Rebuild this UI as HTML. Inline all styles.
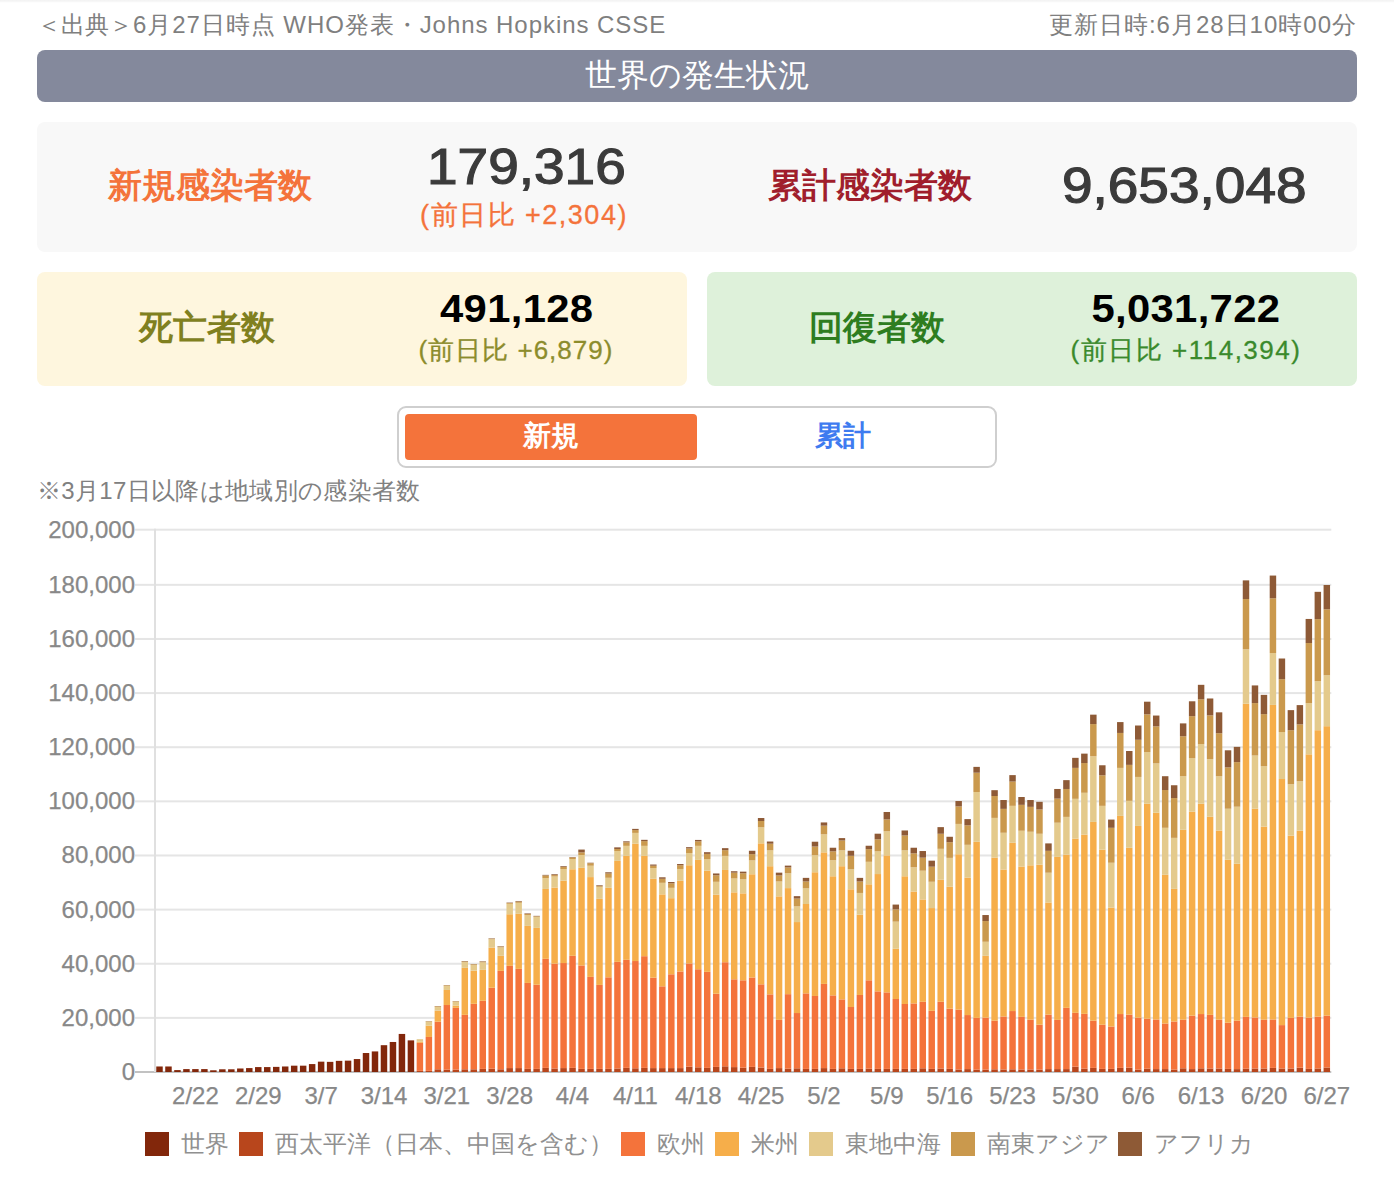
<!DOCTYPE html>
<html lang="ja"><head><meta charset="utf-8"><title>世界の発生状況</title>
<style>
html,body{margin:0;padding:0;background:#fff;}
body{width:1394px;height:1188px;position:relative;overflow:hidden;font-family:"Liberation Sans",sans-serif;color:#808080;}
.abs{position:absolute;}
.topline{position:absolute;left:0;top:0;width:1394px;height:3px;background:linear-gradient(#f3f3f3 0,#f5f5f5 40%,#fcfcfc 75%,#fff 100%);}
.src{position:absolute;left:37px;top:11px;font-size:24px;line-height:28px;color:#7f7f7f;white-space:nowrap;}
.upd{position:absolute;right:37px;top:11px;font-size:24px;line-height:28px;color:#7f7f7f;white-space:nowrap;}
.hdr{position:absolute;left:37px;top:50px;width:1320px;height:52px;border-radius:8px;background:#84899c;color:#fff;font-size:32px;line-height:50px;text-align:center;}
.box{position:absolute;border-radius:8px;}
.b1{left:37px;top:122px;width:1320px;height:130px;background:#f8f8f8;}
.b2{left:37px;top:272px;width:650px;height:114px;background:#fef6de;}
.b3{left:707px;top:272px;width:650px;height:114px;background:#def1da;}
.lab{position:absolute;font-weight:bold;font-size:34px;line-height:40px;white-space:nowrap;text-align:center;}
.num{position:absolute;font-weight:bold;white-space:nowrap;text-align:center;}
.num span{display:inline-block;transform-origin:50% 50%;}
.big span{font-weight:normal;-webkit-text-stroke:1.2px #3b3b3b;transform:scaleX(1.10);}
.med span{transform:scaleX(1.1);letter-spacing:0.3px;}
.sub{position:absolute;white-space:nowrap;text-align:center;letter-spacing:1.5px;-webkit-text-stroke:0.3px currentColor;}
.tog{position:absolute;left:397px;top:406px;width:596px;height:58px;border:2px solid #cfcfcf;border-radius:9px;background:#fff;}
.ton{position:absolute;left:405px;top:414px;width:292px;height:46px;border-radius:4px;background:#f4733b;color:#fff;font-weight:bold;font-size:28px;line-height:44px;text-align:center;}
.toff{position:absolute;left:697px;top:414px;width:292px;height:46px;color:#3e7bf0;font-weight:bold;font-size:28px;line-height:44px;text-align:center;}
.note{position:absolute;left:37px;top:477px;font-size:24px;line-height:28px;color:#808080;white-space:nowrap;letter-spacing:0.32px;}
.yl{position:absolute;left:0;width:135px;text-align:right;font-size:24px;line-height:28px;color:#888;white-space:nowrap;-webkit-text-stroke:0.25px #888;}
.xl{position:absolute;top:1082px;width:80px;text-align:center;font-size:24px;line-height:28px;color:#888;white-space:nowrap;-webkit-text-stroke:0.25px #888;}
.legend{position:absolute;left:145px;top:1128px;height:32px;white-space:nowrap;font-size:24px;line-height:32px;color:#909090;}
.lb{position:absolute;top:4px;width:24px;height:24px;}
.lt{position:absolute;top:0;}
svg{position:absolute;left:0;top:0;}
</style></head><body>
<div class="topline"></div>
<div class="src">＜出典＞<span style="letter-spacing:0.95px">6月27日時点 WHO発表・Johns Hopkins CSSE</span></div>
<div class="upd" style="letter-spacing:1px">更新日時:6月28日10時00分</div>
<div class="hdr">世界の発生状況</div>

<div class="box b1"></div>
<div class="lab" style="left:60px;width:300px;top:165px;color:#f4733b">新規感染者数</div>
<div class="num big" style="left:376px;width:300px;top:138px;font-size:50px;line-height:58px;color:#3b3b3b"><span>179,316</span></div>
<div class="sub" style="left:374px;width:300px;top:198px;font-size:27px;line-height:34px;color:#f4733b">(前日比 +2,304)</div>
<div class="lab" style="left:720px;width:300px;top:165px;color:#a01e2c">累計感染者数</div>
<div class="num big" style="left:1034px;width:300px;top:157px;font-size:50px;line-height:58px;color:#3b3b3b"><span>9,653,048</span></div>

<div class="box b2"></div>
<div class="lab" style="left:57px;width:300px;top:307px;color:#80801f">死亡者数</div>
<div class="num med" style="left:367px;width:300px;top:285px;font-size:38px;line-height:48px;color:#000"><span>491,128</span></div>
<div class="sub" style="left:366px;width:300px;top:333px;font-size:26px;line-height:34px;letter-spacing:1px;color:#8c8c2c">(前日比 +6,879)</div>

<div class="box b3"></div>
<div class="lab" style="left:727px;width:300px;top:307px;color:#2e7d1f">回復者数</div>
<div class="num med" style="left:1036px;width:300px;top:285px;font-size:38px;line-height:48px;color:#000"><span>5,031,722</span></div>
<div class="sub" style="left:1036px;width:300px;top:333px;font-size:26px;line-height:34px;color:#3a8a2c">(前日比 +114,394)</div>

<div class="tog"></div>
<div class="ton">新規</div>
<div class="toff">累計</div>
<div class="note">※3月17日以降は地域別の感染者数</div>

<svg width="1394" height="1188" viewBox="0 0 1394 1188" shape-rendering="auto">
<rect x="135" y="1071.00" width="1196.30" height="2" fill="#c2c2c2"/>
<rect x="135" y="1016.87" width="1196.30" height="2" fill="#e5e5e5"/>
<rect x="135" y="962.74" width="1196.30" height="2" fill="#e5e5e5"/>
<rect x="135" y="908.61" width="1196.30" height="2" fill="#e5e5e5"/>
<rect x="135" y="854.48" width="1196.30" height="2" fill="#e5e5e5"/>
<rect x="135" y="800.35" width="1196.30" height="2" fill="#e5e5e5"/>
<rect x="135" y="746.22" width="1196.30" height="2" fill="#e5e5e5"/>
<rect x="135" y="692.09" width="1196.30" height="2" fill="#e5e5e5"/>
<rect x="135" y="637.96" width="1196.30" height="2" fill="#e5e5e5"/>
<rect x="135" y="583.83" width="1196.30" height="2" fill="#e5e5e5"/>
<rect x="135" y="528.70" width="1196.30" height="2" fill="#e5e5e5"/>
<rect x="154" y="528.70" width="2" height="543.30" fill="#e0e0e0"/>
<rect x="156.26" y="1066.48" width="6.47" height="5.52" fill="#82270b"/>
<rect x="165.24" y="1066.48" width="6.47" height="5.52" fill="#82270b"/>
<rect x="174.22" y="1070.09" width="6.47" height="1.91" fill="#82270b"/>
<rect x="183.20" y="1069.09" width="6.47" height="2.91" fill="#82270b"/>
<rect x="192.17" y="1069.09" width="6.47" height="2.91" fill="#82270b"/>
<rect x="201.15" y="1069.09" width="6.47" height="2.91" fill="#82270b"/>
<rect x="210.13" y="1070.29" width="6.47" height="1.71" fill="#82270b"/>
<rect x="219.11" y="1069.29" width="6.47" height="2.71" fill="#82270b"/>
<rect x="228.09" y="1069.29" width="6.47" height="2.71" fill="#82270b"/>
<rect x="237.07" y="1068.49" width="6.47" height="3.51" fill="#82270b"/>
<rect x="246.05" y="1068.09" width="6.47" height="3.91" fill="#82270b"/>
<rect x="255.03" y="1067.08" width="6.47" height="4.92" fill="#82270b"/>
<rect x="264.01" y="1067.08" width="6.47" height="4.92" fill="#82270b"/>
<rect x="272.99" y="1066.88" width="6.47" height="5.12" fill="#82270b"/>
<rect x="281.97" y="1066.48" width="6.47" height="5.52" fill="#82270b"/>
<rect x="290.95" y="1065.68" width="6.47" height="6.32" fill="#82270b"/>
<rect x="299.93" y="1065.68" width="6.47" height="6.32" fill="#82270b"/>
<rect x="308.91" y="1064.07" width="6.47" height="7.93" fill="#82270b"/>
<rect x="317.89" y="1061.66" width="6.47" height="10.34" fill="#82270b"/>
<rect x="326.87" y="1061.86" width="6.47" height="10.14" fill="#82270b"/>
<rect x="335.84" y="1060.86" width="6.47" height="11.14" fill="#82270b"/>
<rect x="344.82" y="1060.65" width="6.47" height="11.35" fill="#82270b"/>
<rect x="353.80" y="1059.05" width="6.47" height="12.95" fill="#82270b"/>
<rect x="362.78" y="1053.02" width="6.47" height="18.98" fill="#82270b"/>
<rect x="371.76" y="1051.42" width="6.47" height="20.58" fill="#82270b"/>
<rect x="380.74" y="1045.19" width="6.47" height="26.81" fill="#82270b"/>
<rect x="389.72" y="1041.98" width="6.47" height="30.02" fill="#82270b"/>
<rect x="398.70" y="1033.94" width="6.47" height="38.06" fill="#82270b"/>
<rect x="407.68" y="1040.37" width="6.47" height="31.63" fill="#82270b"/>
<rect x="416.66" y="1070.90" width="6.47" height="1.10" fill="#b8461c"/>
<rect x="416.66" y="1042.78" width="6.47" height="28.12" fill="#f4733b"/>
<rect x="416.66" y="1041.78" width="6.47" height="1.00" fill="#f6ae4a"/>
<rect x="416.66" y="1039.16" width="6.47" height="2.61" fill="#e4ca8c"/>
<rect x="425.64" y="1070.90" width="6.47" height="1.10" fill="#b8461c"/>
<rect x="425.64" y="1036.95" width="6.47" height="33.94" fill="#f4733b"/>
<rect x="425.64" y="1025.71" width="6.47" height="11.25" fill="#f6ae4a"/>
<rect x="425.64" y="1021.69" width="6.47" height="4.02" fill="#e4ca8c"/>
<rect x="425.64" y="1021.29" width="6.47" height="0.40" fill="#ca994d"/>
<rect x="425.64" y="1021.09" width="6.47" height="0.20" fill="#8e5a36"/>
<rect x="434.62" y="1069.29" width="6.47" height="2.71" fill="#b8461c"/>
<rect x="434.62" y="1021.69" width="6.47" height="47.60" fill="#f4733b"/>
<rect x="434.62" y="1010.64" width="6.47" height="11.05" fill="#f6ae4a"/>
<rect x="434.62" y="1006.83" width="6.47" height="3.82" fill="#e4ca8c"/>
<rect x="434.62" y="1006.23" width="6.47" height="0.60" fill="#ca994d"/>
<rect x="434.62" y="1006.03" width="6.47" height="0.20" fill="#8e5a36"/>
<rect x="443.60" y="1069.69" width="6.47" height="2.31" fill="#b8461c"/>
<rect x="443.60" y="1005.02" width="6.47" height="64.67" fill="#f4733b"/>
<rect x="443.60" y="989.96" width="6.47" height="15.06" fill="#f6ae4a"/>
<rect x="443.60" y="985.94" width="6.47" height="4.02" fill="#e4ca8c"/>
<rect x="443.60" y="985.34" width="6.47" height="0.60" fill="#ca994d"/>
<rect x="443.60" y="985.14" width="6.47" height="0.20" fill="#8e5a36"/>
<rect x="452.58" y="1069.69" width="6.47" height="2.31" fill="#b8461c"/>
<rect x="452.58" y="1007.83" width="6.47" height="61.86" fill="#f4733b"/>
<rect x="452.58" y="1005.62" width="6.47" height="2.21" fill="#f6ae4a"/>
<rect x="452.58" y="1001.61" width="6.47" height="4.02" fill="#e4ca8c"/>
<rect x="452.58" y="1001.20" width="6.47" height="0.40" fill="#ca994d"/>
<rect x="452.58" y="1001.00" width="6.47" height="0.20" fill="#8e5a36"/>
<rect x="461.56" y="1069.29" width="6.47" height="2.71" fill="#b8461c"/>
<rect x="461.56" y="1014.86" width="6.47" height="54.43" fill="#f4733b"/>
<rect x="461.56" y="967.86" width="6.47" height="47.00" fill="#f6ae4a"/>
<rect x="461.56" y="962.04" width="6.47" height="5.82" fill="#e4ca8c"/>
<rect x="461.56" y="961.44" width="6.47" height="0.60" fill="#ca994d"/>
<rect x="461.56" y="961.04" width="6.47" height="0.40" fill="#8e5a36"/>
<rect x="470.54" y="1069.29" width="6.47" height="2.71" fill="#b8461c"/>
<rect x="470.54" y="1003.82" width="6.47" height="65.47" fill="#f4733b"/>
<rect x="470.54" y="970.68" width="6.47" height="33.14" fill="#f6ae4a"/>
<rect x="470.54" y="964.85" width="6.47" height="5.82" fill="#e4ca8c"/>
<rect x="470.54" y="964.25" width="6.47" height="0.60" fill="#ca994d"/>
<rect x="470.54" y="964.05" width="6.47" height="0.20" fill="#8e5a36"/>
<rect x="479.52" y="1068.89" width="6.47" height="3.11" fill="#b8461c"/>
<rect x="479.52" y="1000.80" width="6.47" height="68.09" fill="#f4733b"/>
<rect x="479.52" y="969.87" width="6.47" height="30.93" fill="#f6ae4a"/>
<rect x="479.52" y="962.44" width="6.47" height="7.43" fill="#e4ca8c"/>
<rect x="479.52" y="961.64" width="6.47" height="0.80" fill="#ca994d"/>
<rect x="479.52" y="961.24" width="6.47" height="0.40" fill="#8e5a36"/>
<rect x="488.49" y="1068.69" width="6.47" height="3.31" fill="#b8461c"/>
<rect x="488.49" y="987.75" width="6.47" height="80.94" fill="#f4733b"/>
<rect x="488.49" y="947.58" width="6.47" height="40.17" fill="#f6ae4a"/>
<rect x="488.49" y="939.34" width="6.47" height="8.23" fill="#e4ca8c"/>
<rect x="488.49" y="938.74" width="6.47" height="0.60" fill="#ca994d"/>
<rect x="488.49" y="938.34" width="6.47" height="0.40" fill="#8e5a36"/>
<rect x="497.47" y="1069.29" width="6.47" height="2.71" fill="#b8461c"/>
<rect x="497.47" y="970.88" width="6.47" height="98.41" fill="#f4733b"/>
<rect x="497.47" y="955.81" width="6.47" height="15.06" fill="#f6ae4a"/>
<rect x="497.47" y="947.38" width="6.47" height="8.44" fill="#e4ca8c"/>
<rect x="497.47" y="946.58" width="6.47" height="0.80" fill="#ca994d"/>
<rect x="497.47" y="946.17" width="6.47" height="0.40" fill="#8e5a36"/>
<rect x="506.45" y="1068.09" width="6.47" height="3.91" fill="#b8461c"/>
<rect x="506.45" y="965.86" width="6.47" height="102.23" fill="#f4733b"/>
<rect x="506.45" y="914.24" width="6.47" height="51.62" fill="#f6ae4a"/>
<rect x="506.45" y="903.80" width="6.47" height="10.44" fill="#e4ca8c"/>
<rect x="506.45" y="902.99" width="6.47" height="0.80" fill="#ca994d"/>
<rect x="506.45" y="902.59" width="6.47" height="0.40" fill="#8e5a36"/>
<rect x="515.43" y="1068.09" width="6.47" height="3.91" fill="#b8461c"/>
<rect x="515.43" y="968.87" width="6.47" height="99.22" fill="#f4733b"/>
<rect x="515.43" y="913.84" width="6.47" height="55.03" fill="#f6ae4a"/>
<rect x="515.43" y="902.79" width="6.47" height="11.05" fill="#e4ca8c"/>
<rect x="515.43" y="901.59" width="6.47" height="1.21" fill="#ca994d"/>
<rect x="515.43" y="900.98" width="6.47" height="0.60" fill="#8e5a36"/>
<rect x="524.41" y="1068.89" width="6.47" height="3.11" fill="#b8461c"/>
<rect x="524.41" y="982.93" width="6.47" height="85.96" fill="#f4733b"/>
<rect x="524.41" y="925.89" width="6.47" height="57.04" fill="#f6ae4a"/>
<rect x="524.41" y="915.04" width="6.47" height="10.85" fill="#e4ca8c"/>
<rect x="524.41" y="914.04" width="6.47" height="1.00" fill="#ca994d"/>
<rect x="524.41" y="913.44" width="6.47" height="0.60" fill="#8e5a36"/>
<rect x="533.39" y="1068.89" width="6.47" height="3.11" fill="#b8461c"/>
<rect x="533.39" y="984.74" width="6.47" height="84.15" fill="#f4733b"/>
<rect x="533.39" y="927.90" width="6.47" height="56.84" fill="#f6ae4a"/>
<rect x="533.39" y="916.85" width="6.47" height="11.05" fill="#e4ca8c"/>
<rect x="533.39" y="916.25" width="6.47" height="0.60" fill="#ca994d"/>
<rect x="533.39" y="915.85" width="6.47" height="0.40" fill="#8e5a36"/>
<rect x="542.37" y="1067.88" width="6.47" height="4.12" fill="#b8461c"/>
<rect x="542.37" y="958.83" width="6.47" height="109.06" fill="#f4733b"/>
<rect x="542.37" y="888.93" width="6.47" height="69.89" fill="#f6ae4a"/>
<rect x="542.37" y="878.09" width="6.47" height="10.85" fill="#e4ca8c"/>
<rect x="542.37" y="875.48" width="6.47" height="2.61" fill="#ca994d"/>
<rect x="542.37" y="874.87" width="6.47" height="0.60" fill="#8e5a36"/>
<rect x="551.35" y="1068.49" width="6.47" height="3.51" fill="#b8461c"/>
<rect x="551.35" y="963.65" width="6.47" height="104.84" fill="#f4733b"/>
<rect x="551.35" y="887.53" width="6.47" height="76.12" fill="#f6ae4a"/>
<rect x="551.35" y="876.48" width="6.47" height="11.05" fill="#e4ca8c"/>
<rect x="551.35" y="875.08" width="6.47" height="1.41" fill="#ca994d"/>
<rect x="551.35" y="874.27" width="6.47" height="0.80" fill="#8e5a36"/>
<rect x="560.33" y="1068.09" width="6.47" height="3.91" fill="#b8461c"/>
<rect x="560.33" y="963.04" width="6.47" height="105.04" fill="#f4733b"/>
<rect x="560.33" y="880.70" width="6.47" height="82.35" fill="#f6ae4a"/>
<rect x="560.33" y="869.05" width="6.47" height="11.65" fill="#e4ca8c"/>
<rect x="560.33" y="867.04" width="6.47" height="2.01" fill="#ca994d"/>
<rect x="560.33" y="866.24" width="6.47" height="0.80" fill="#8e5a36"/>
<rect x="569.31" y="1067.88" width="6.47" height="4.12" fill="#b8461c"/>
<rect x="569.31" y="955.81" width="6.47" height="112.07" fill="#f4733b"/>
<rect x="569.31" y="869.25" width="6.47" height="86.56" fill="#f6ae4a"/>
<rect x="569.31" y="859.01" width="6.47" height="10.24" fill="#e4ca8c"/>
<rect x="569.31" y="857.40" width="6.47" height="1.61" fill="#ca994d"/>
<rect x="569.31" y="857.00" width="6.47" height="0.40" fill="#8e5a36"/>
<rect x="578.29" y="1068.89" width="6.47" height="3.11" fill="#b8461c"/>
<rect x="578.29" y="965.45" width="6.47" height="103.43" fill="#f4733b"/>
<rect x="578.29" y="867.84" width="6.47" height="97.61" fill="#f6ae4a"/>
<rect x="578.29" y="854.99" width="6.47" height="12.85" fill="#e4ca8c"/>
<rect x="578.29" y="852.38" width="6.47" height="2.61" fill="#ca994d"/>
<rect x="578.29" y="849.57" width="6.47" height="2.81" fill="#8e5a36"/>
<rect x="587.27" y="1068.89" width="6.47" height="3.11" fill="#b8461c"/>
<rect x="587.27" y="976.90" width="6.47" height="91.99" fill="#f4733b"/>
<rect x="587.27" y="877.09" width="6.47" height="99.81" fill="#f6ae4a"/>
<rect x="587.27" y="865.74" width="6.47" height="11.35" fill="#e4ca8c"/>
<rect x="587.27" y="863.23" width="6.47" height="2.51" fill="#ca994d"/>
<rect x="587.27" y="862.73" width="6.47" height="0.50" fill="#8e5a36"/>
<rect x="596.25" y="1068.89" width="6.47" height="3.11" fill="#b8461c"/>
<rect x="596.25" y="984.94" width="6.47" height="83.95" fill="#f4733b"/>
<rect x="596.25" y="898.88" width="6.47" height="86.05" fill="#f6ae4a"/>
<rect x="596.25" y="886.83" width="6.47" height="12.05" fill="#e4ca8c"/>
<rect x="596.25" y="886.03" width="6.47" height="0.80" fill="#ca994d"/>
<rect x="596.25" y="885.32" width="6.47" height="0.70" fill="#8e5a36"/>
<rect x="605.23" y="1068.89" width="6.47" height="3.11" fill="#b8461c"/>
<rect x="605.23" y="977.30" width="6.47" height="91.58" fill="#f4733b"/>
<rect x="605.23" y="887.83" width="6.47" height="89.47" fill="#f6ae4a"/>
<rect x="605.23" y="877.79" width="6.47" height="10.04" fill="#e4ca8c"/>
<rect x="605.23" y="873.47" width="6.47" height="4.32" fill="#ca994d"/>
<rect x="605.23" y="872.27" width="6.47" height="1.21" fill="#8e5a36"/>
<rect x="614.21" y="1068.49" width="6.47" height="3.51" fill="#b8461c"/>
<rect x="614.21" y="961.84" width="6.47" height="106.65" fill="#f4733b"/>
<rect x="614.21" y="860.92" width="6.47" height="100.92" fill="#f6ae4a"/>
<rect x="614.21" y="850.98" width="6.47" height="9.94" fill="#e4ca8c"/>
<rect x="614.21" y="848.97" width="6.47" height="2.01" fill="#ca994d"/>
<rect x="614.21" y="847.36" width="6.47" height="1.61" fill="#8e5a36"/>
<rect x="623.19" y="1067.88" width="6.47" height="4.12" fill="#b8461c"/>
<rect x="623.19" y="959.83" width="6.47" height="108.05" fill="#f4733b"/>
<rect x="623.19" y="855.90" width="6.47" height="103.93" fill="#f6ae4a"/>
<rect x="623.19" y="845.85" width="6.47" height="10.04" fill="#e4ca8c"/>
<rect x="623.19" y="842.34" width="6.47" height="3.52" fill="#ca994d"/>
<rect x="623.19" y="841.33" width="6.47" height="1.00" fill="#8e5a36"/>
<rect x="632.16" y="1068.29" width="6.47" height="3.71" fill="#b8461c"/>
<rect x="632.16" y="961.04" width="6.47" height="107.25" fill="#f4733b"/>
<rect x="632.16" y="843.64" width="6.47" height="117.39" fill="#f6ae4a"/>
<rect x="632.16" y="832.90" width="6.47" height="10.75" fill="#e4ca8c"/>
<rect x="632.16" y="830.09" width="6.47" height="2.81" fill="#ca994d"/>
<rect x="632.16" y="828.88" width="6.47" height="1.21" fill="#8e5a36"/>
<rect x="641.14" y="1067.90" width="6.47" height="4.10" fill="#b8461c"/>
<rect x="641.14" y="956.20" width="6.47" height="111.70" fill="#f4733b"/>
<rect x="641.14" y="855.90" width="6.47" height="100.30" fill="#f6ae4a"/>
<rect x="641.14" y="845.85" width="6.47" height="10.04" fill="#e4ca8c"/>
<rect x="641.14" y="841.13" width="6.47" height="4.72" fill="#ca994d"/>
<rect x="641.14" y="839.83" width="6.47" height="1.31" fill="#8e5a36"/>
<rect x="650.12" y="1068.10" width="6.47" height="3.90" fill="#b8461c"/>
<rect x="650.12" y="977.69" width="6.47" height="90.41" fill="#f4733b"/>
<rect x="650.12" y="878.80" width="6.47" height="98.89" fill="#f6ae4a"/>
<rect x="650.12" y="868.05" width="6.47" height="10.75" fill="#e4ca8c"/>
<rect x="650.12" y="865.74" width="6.47" height="2.31" fill="#ca994d"/>
<rect x="650.12" y="864.53" width="6.47" height="1.21" fill="#8e5a36"/>
<rect x="659.10" y="1068.10" width="6.47" height="3.90" fill="#b8461c"/>
<rect x="659.10" y="986.33" width="6.47" height="81.77" fill="#f4733b"/>
<rect x="659.10" y="894.36" width="6.47" height="91.96" fill="#f6ae4a"/>
<rect x="659.10" y="882.81" width="6.47" height="11.55" fill="#e4ca8c"/>
<rect x="659.10" y="878.80" width="6.47" height="4.02" fill="#ca994d"/>
<rect x="659.10" y="877.29" width="6.47" height="1.51" fill="#8e5a36"/>
<rect x="668.08" y="1068.10" width="6.47" height="3.90" fill="#b8461c"/>
<rect x="668.08" y="974.28" width="6.47" height="93.82" fill="#f4733b"/>
<rect x="668.08" y="898.18" width="6.47" height="76.10" fill="#f6ae4a"/>
<rect x="668.08" y="887.83" width="6.47" height="10.34" fill="#e4ca8c"/>
<rect x="668.08" y="883.32" width="6.47" height="4.52" fill="#ca994d"/>
<rect x="668.08" y="882.01" width="6.47" height="1.31" fill="#8e5a36"/>
<rect x="677.06" y="1068.10" width="6.47" height="3.90" fill="#b8461c"/>
<rect x="677.06" y="971.46" width="6.47" height="96.64" fill="#f4733b"/>
<rect x="677.06" y="880.80" width="6.47" height="90.66" fill="#f6ae4a"/>
<rect x="677.06" y="868.95" width="6.47" height="11.85" fill="#e4ca8c"/>
<rect x="677.06" y="865.24" width="6.47" height="3.72" fill="#ca994d"/>
<rect x="677.06" y="864.03" width="6.47" height="1.21" fill="#8e5a36"/>
<rect x="686.04" y="1066.70" width="6.47" height="5.30" fill="#b8461c"/>
<rect x="686.04" y="963.43" width="6.47" height="103.27" fill="#f4733b"/>
<rect x="686.04" y="865.24" width="6.47" height="98.19" fill="#f6ae4a"/>
<rect x="686.04" y="852.98" width="6.47" height="12.25" fill="#e4ca8c"/>
<rect x="686.04" y="848.47" width="6.47" height="4.52" fill="#ca994d"/>
<rect x="686.04" y="847.16" width="6.47" height="1.31" fill="#8e5a36"/>
<rect x="695.02" y="1067.30" width="6.47" height="4.70" fill="#b8461c"/>
<rect x="695.02" y="969.25" width="6.47" height="98.05" fill="#f4733b"/>
<rect x="695.02" y="859.91" width="6.47" height="109.34" fill="#f6ae4a"/>
<rect x="695.02" y="845.85" width="6.47" height="14.06" fill="#e4ca8c"/>
<rect x="695.02" y="841.33" width="6.47" height="4.52" fill="#ca994d"/>
<rect x="695.02" y="839.93" width="6.47" height="1.41" fill="#8e5a36"/>
<rect x="704.00" y="1067.90" width="6.47" height="4.10" fill="#b8461c"/>
<rect x="704.00" y="971.87" width="6.47" height="96.03" fill="#f4733b"/>
<rect x="704.00" y="870.76" width="6.47" height="101.10" fill="#f6ae4a"/>
<rect x="704.00" y="859.01" width="6.47" height="11.75" fill="#e4ca8c"/>
<rect x="704.00" y="853.89" width="6.47" height="5.12" fill="#ca994d"/>
<rect x="704.00" y="852.18" width="6.47" height="1.71" fill="#8e5a36"/>
<rect x="712.98" y="1066.90" width="6.47" height="5.10" fill="#b8461c"/>
<rect x="712.98" y="993.76" width="6.47" height="73.14" fill="#f4733b"/>
<rect x="712.98" y="894.66" width="6.47" height="99.09" fill="#f6ae4a"/>
<rect x="712.98" y="881.81" width="6.47" height="12.86" fill="#e4ca8c"/>
<rect x="712.98" y="875.28" width="6.47" height="6.53" fill="#ca994d"/>
<rect x="712.98" y="873.47" width="6.47" height="1.81" fill="#8e5a36"/>
<rect x="721.96" y="1066.30" width="6.47" height="5.70" fill="#b8461c"/>
<rect x="721.96" y="962.23" width="6.47" height="104.07" fill="#f4733b"/>
<rect x="721.96" y="869.96" width="6.47" height="92.27" fill="#f6ae4a"/>
<rect x="721.96" y="855.90" width="6.47" height="14.06" fill="#e4ca8c"/>
<rect x="721.96" y="850.17" width="6.47" height="5.72" fill="#ca994d"/>
<rect x="721.96" y="848.16" width="6.47" height="2.01" fill="#8e5a36"/>
<rect x="730.94" y="1067.10" width="6.47" height="4.90" fill="#b8461c"/>
<rect x="730.94" y="979.30" width="6.47" height="87.80" fill="#f4733b"/>
<rect x="730.94" y="892.33" width="6.47" height="86.97" fill="#f6ae4a"/>
<rect x="730.94" y="878.47" width="6.47" height="13.86" fill="#e4ca8c"/>
<rect x="730.94" y="872.65" width="6.47" height="5.82" fill="#ca994d"/>
<rect x="730.94" y="871.24" width="6.47" height="1.41" fill="#8e5a36"/>
<rect x="739.92" y="1067.70" width="6.47" height="4.30" fill="#b8461c"/>
<rect x="739.92" y="980.30" width="6.47" height="87.40" fill="#f4733b"/>
<rect x="739.92" y="893.34" width="6.47" height="86.97" fill="#f6ae4a"/>
<rect x="739.92" y="879.28" width="6.47" height="14.06" fill="#e4ca8c"/>
<rect x="739.92" y="873.25" width="6.47" height="6.03" fill="#ca994d"/>
<rect x="739.92" y="871.65" width="6.47" height="1.61" fill="#8e5a36"/>
<rect x="748.90" y="1066.90" width="6.47" height="5.10" fill="#b8461c"/>
<rect x="748.90" y="977.49" width="6.47" height="89.41" fill="#f4733b"/>
<rect x="748.90" y="874.26" width="6.47" height="103.23" fill="#f6ae4a"/>
<rect x="748.90" y="860.40" width="6.47" height="13.86" fill="#e4ca8c"/>
<rect x="748.90" y="854.17" width="6.47" height="6.23" fill="#ca994d"/>
<rect x="748.90" y="850.76" width="6.47" height="3.41" fill="#8e5a36"/>
<rect x="757.88" y="1067.50" width="6.47" height="4.50" fill="#b8461c"/>
<rect x="757.88" y="984.32" width="6.47" height="83.18" fill="#f4733b"/>
<rect x="757.88" y="843.33" width="6.47" height="140.99" fill="#f6ae4a"/>
<rect x="757.88" y="827.26" width="6.47" height="16.07" fill="#e4ca8c"/>
<rect x="757.88" y="821.03" width="6.47" height="6.23" fill="#ca994d"/>
<rect x="757.88" y="818.02" width="6.47" height="3.01" fill="#8e5a36"/>
<rect x="766.86" y="1068.90" width="6.47" height="3.10" fill="#b8461c"/>
<rect x="766.86" y="994.36" width="6.47" height="74.54" fill="#f4733b"/>
<rect x="766.86" y="866.22" width="6.47" height="128.14" fill="#f6ae4a"/>
<rect x="766.86" y="850.36" width="6.47" height="15.87" fill="#e4ca8c"/>
<rect x="766.86" y="843.73" width="6.47" height="6.63" fill="#ca994d"/>
<rect x="766.86" y="841.52" width="6.47" height="2.21" fill="#8e5a36"/>
<rect x="775.83" y="1068.10" width="6.47" height="3.90" fill="#b8461c"/>
<rect x="775.83" y="1019.87" width="6.47" height="48.23" fill="#f4733b"/>
<rect x="775.83" y="896.35" width="6.47" height="123.52" fill="#f6ae4a"/>
<rect x="775.83" y="881.49" width="6.47" height="14.86" fill="#e4ca8c"/>
<rect x="775.83" y="875.46" width="6.47" height="6.03" fill="#ca994d"/>
<rect x="775.83" y="872.65" width="6.47" height="2.81" fill="#8e5a36"/>
<rect x="784.81" y="1068.70" width="6.47" height="3.30" fill="#b8461c"/>
<rect x="784.81" y="994.16" width="6.47" height="74.54" fill="#f4733b"/>
<rect x="784.81" y="888.11" width="6.47" height="106.05" fill="#f6ae4a"/>
<rect x="784.81" y="873.25" width="6.47" height="14.86" fill="#e4ca8c"/>
<rect x="784.81" y="867.43" width="6.47" height="5.82" fill="#ca994d"/>
<rect x="784.81" y="865.62" width="6.47" height="1.81" fill="#8e5a36"/>
<rect x="793.79" y="1068.30" width="6.47" height="3.70" fill="#b8461c"/>
<rect x="793.79" y="1013.04" width="6.47" height="55.26" fill="#f4733b"/>
<rect x="793.79" y="922.06" width="6.47" height="90.98" fill="#f6ae4a"/>
<rect x="793.79" y="906.39" width="6.47" height="15.67" fill="#e4ca8c"/>
<rect x="793.79" y="898.56" width="6.47" height="7.83" fill="#ca994d"/>
<rect x="793.79" y="896.15" width="6.47" height="2.41" fill="#8e5a36"/>
<rect x="802.77" y="1068.90" width="6.47" height="3.10" fill="#b8461c"/>
<rect x="802.77" y="993.36" width="6.47" height="75.54" fill="#f4733b"/>
<rect x="802.77" y="903.98" width="6.47" height="89.38" fill="#f6ae4a"/>
<rect x="802.77" y="888.32" width="6.47" height="15.67" fill="#e4ca8c"/>
<rect x="802.77" y="881.49" width="6.47" height="6.83" fill="#ca994d"/>
<rect x="802.77" y="877.87" width="6.47" height="3.62" fill="#8e5a36"/>
<rect x="811.75" y="1068.90" width="6.47" height="3.10" fill="#b8461c"/>
<rect x="811.75" y="995.97" width="6.47" height="72.93" fill="#f4733b"/>
<rect x="811.75" y="872.25" width="6.47" height="123.72" fill="#f6ae4a"/>
<rect x="811.75" y="855.18" width="6.47" height="17.07" fill="#e4ca8c"/>
<rect x="811.75" y="846.54" width="6.47" height="8.64" fill="#ca994d"/>
<rect x="811.75" y="841.72" width="6.47" height="4.82" fill="#8e5a36"/>
<rect x="820.73" y="1068.10" width="6.47" height="3.90" fill="#b8461c"/>
<rect x="820.73" y="983.92" width="6.47" height="84.18" fill="#f4733b"/>
<rect x="820.73" y="852.36" width="6.47" height="131.55" fill="#f6ae4a"/>
<rect x="820.73" y="834.29" width="6.47" height="18.08" fill="#e4ca8c"/>
<rect x="820.73" y="825.65" width="6.47" height="8.64" fill="#ca994d"/>
<rect x="820.73" y="822.44" width="6.47" height="3.21" fill="#8e5a36"/>
<rect x="829.71" y="1068.90" width="6.47" height="3.10" fill="#b8461c"/>
<rect x="829.71" y="995.36" width="6.47" height="73.54" fill="#f4733b"/>
<rect x="829.71" y="876.26" width="6.47" height="119.10" fill="#f6ae4a"/>
<rect x="829.71" y="860.20" width="6.47" height="16.07" fill="#e4ca8c"/>
<rect x="829.71" y="851.36" width="6.47" height="8.84" fill="#ca994d"/>
<rect x="829.71" y="847.74" width="6.47" height="3.62" fill="#8e5a36"/>
<rect x="838.69" y="1068.30" width="6.47" height="3.70" fill="#b8461c"/>
<rect x="838.69" y="999.38" width="6.47" height="68.92" fill="#f4733b"/>
<rect x="838.69" y="866.22" width="6.47" height="133.16" fill="#f6ae4a"/>
<rect x="838.69" y="850.36" width="6.47" height="15.87" fill="#e4ca8c"/>
<rect x="838.69" y="840.51" width="6.47" height="9.84" fill="#ca994d"/>
<rect x="838.69" y="838.10" width="6.47" height="2.41" fill="#8e5a36"/>
<rect x="847.67" y="1068.90" width="6.47" height="3.10" fill="#b8461c"/>
<rect x="847.67" y="1007.01" width="6.47" height="61.89" fill="#f4733b"/>
<rect x="847.67" y="889.32" width="6.47" height="117.69" fill="#f6ae4a"/>
<rect x="847.67" y="869.23" width="6.47" height="20.08" fill="#e4ca8c"/>
<rect x="847.67" y="855.78" width="6.47" height="13.46" fill="#ca994d"/>
<rect x="847.67" y="850.76" width="6.47" height="5.02" fill="#8e5a36"/>
<rect x="856.65" y="1068.90" width="6.47" height="3.10" fill="#b8461c"/>
<rect x="856.65" y="994.96" width="6.47" height="73.94" fill="#f4733b"/>
<rect x="856.65" y="914.63" width="6.47" height="80.34" fill="#f6ae4a"/>
<rect x="856.65" y="892.93" width="6.47" height="21.69" fill="#e4ca8c"/>
<rect x="856.65" y="881.49" width="6.47" height="11.45" fill="#ca994d"/>
<rect x="856.65" y="877.87" width="6.47" height="3.62" fill="#8e5a36"/>
<rect x="865.63" y="1068.70" width="6.47" height="3.30" fill="#b8461c"/>
<rect x="865.63" y="980.30" width="6.47" height="88.40" fill="#f4733b"/>
<rect x="865.63" y="884.30" width="6.47" height="96.00" fill="#f6ae4a"/>
<rect x="865.63" y="861.80" width="6.47" height="22.49" fill="#e4ca8c"/>
<rect x="865.63" y="849.15" width="6.47" height="12.65" fill="#ca994d"/>
<rect x="865.63" y="845.74" width="6.47" height="3.41" fill="#8e5a36"/>
<rect x="874.61" y="1068.90" width="6.47" height="3.10" fill="#b8461c"/>
<rect x="874.61" y="991.35" width="6.47" height="77.55" fill="#f4733b"/>
<rect x="874.61" y="874.06" width="6.47" height="117.29" fill="#f6ae4a"/>
<rect x="874.61" y="851.36" width="6.47" height="22.70" fill="#e4ca8c"/>
<rect x="874.61" y="839.31" width="6.47" height="12.05" fill="#ca994d"/>
<rect x="874.61" y="833.69" width="6.47" height="5.62" fill="#8e5a36"/>
<rect x="883.59" y="1068.90" width="6.47" height="3.10" fill="#b8461c"/>
<rect x="883.59" y="992.35" width="6.47" height="76.55" fill="#f4733b"/>
<rect x="883.59" y="855.38" width="6.47" height="136.98" fill="#f6ae4a"/>
<rect x="883.59" y="831.28" width="6.47" height="24.10" fill="#e4ca8c"/>
<rect x="883.59" y="819.43" width="6.47" height="11.85" fill="#ca994d"/>
<rect x="883.59" y="811.99" width="6.47" height="7.43" fill="#8e5a36"/>
<rect x="892.57" y="1068.90" width="6.47" height="3.10" fill="#b8461c"/>
<rect x="892.57" y="998.98" width="6.47" height="69.92" fill="#f4733b"/>
<rect x="892.57" y="948.77" width="6.47" height="50.21" fill="#f6ae4a"/>
<rect x="892.57" y="921.66" width="6.47" height="27.11" fill="#e4ca8c"/>
<rect x="892.57" y="909.40" width="6.47" height="12.25" fill="#ca994d"/>
<rect x="892.57" y="904.58" width="6.47" height="4.82" fill="#8e5a36"/>
<rect x="901.55" y="1068.90" width="6.47" height="3.10" fill="#b8461c"/>
<rect x="901.55" y="1004.00" width="6.47" height="64.90" fill="#f4733b"/>
<rect x="901.55" y="876.26" width="6.47" height="127.74" fill="#f6ae4a"/>
<rect x="901.55" y="850.36" width="6.47" height="25.91" fill="#e4ca8c"/>
<rect x="901.55" y="835.49" width="6.47" height="14.86" fill="#ca994d"/>
<rect x="901.55" y="830.47" width="6.47" height="5.02" fill="#8e5a36"/>
<rect x="910.53" y="1068.90" width="6.47" height="3.10" fill="#b8461c"/>
<rect x="910.53" y="1003.40" width="6.47" height="65.50" fill="#f4733b"/>
<rect x="910.53" y="891.53" width="6.47" height="111.87" fill="#f6ae4a"/>
<rect x="910.53" y="867.23" width="6.47" height="24.30" fill="#e4ca8c"/>
<rect x="910.53" y="853.37" width="6.47" height="13.86" fill="#ca994d"/>
<rect x="910.53" y="847.74" width="6.47" height="5.62" fill="#8e5a36"/>
<rect x="919.51" y="1068.29" width="6.47" height="3.71" fill="#b8461c"/>
<rect x="919.51" y="1001.81" width="6.47" height="66.48" fill="#f4733b"/>
<rect x="919.51" y="899.44" width="6.47" height="102.37" fill="#f6ae4a"/>
<rect x="919.51" y="870.72" width="6.47" height="28.72" fill="#e4ca8c"/>
<rect x="919.51" y="857.66" width="6.47" height="13.05" fill="#ca994d"/>
<rect x="919.51" y="851.03" width="6.47" height="6.63" fill="#8e5a36"/>
<rect x="928.48" y="1068.89" width="6.47" height="3.11" fill="#b8461c"/>
<rect x="928.48" y="1010.85" width="6.47" height="58.04" fill="#f4733b"/>
<rect x="928.48" y="908.07" width="6.47" height="102.77" fill="#f6ae4a"/>
<rect x="928.48" y="881.76" width="6.47" height="26.31" fill="#e4ca8c"/>
<rect x="928.48" y="866.70" width="6.47" height="15.06" fill="#ca994d"/>
<rect x="928.48" y="860.67" width="6.47" height="6.03" fill="#8e5a36"/>
<rect x="937.46" y="1068.49" width="6.47" height="3.51" fill="#b8461c"/>
<rect x="937.46" y="1001.81" width="6.47" height="66.68" fill="#f4733b"/>
<rect x="937.46" y="879.75" width="6.47" height="122.05" fill="#f6ae4a"/>
<rect x="937.46" y="848.83" width="6.47" height="30.93" fill="#e4ca8c"/>
<rect x="937.46" y="833.76" width="6.47" height="15.06" fill="#ca994d"/>
<rect x="937.46" y="827.13" width="6.47" height="6.63" fill="#8e5a36"/>
<rect x="946.44" y="1068.89" width="6.47" height="3.11" fill="#b8461c"/>
<rect x="946.44" y="1008.64" width="6.47" height="60.25" fill="#f4733b"/>
<rect x="946.44" y="886.78" width="6.47" height="121.85" fill="#f6ae4a"/>
<rect x="946.44" y="857.86" width="6.47" height="28.92" fill="#e4ca8c"/>
<rect x="946.44" y="842.20" width="6.47" height="15.67" fill="#ca994d"/>
<rect x="946.44" y="836.77" width="6.47" height="5.42" fill="#8e5a36"/>
<rect x="955.42" y="1069.49" width="6.47" height="2.51" fill="#b8461c"/>
<rect x="955.42" y="1009.64" width="6.47" height="59.85" fill="#f4733b"/>
<rect x="955.42" y="854.25" width="6.47" height="155.39" fill="#f6ae4a"/>
<rect x="955.42" y="823.92" width="6.47" height="30.33" fill="#e4ca8c"/>
<rect x="955.42" y="806.45" width="6.47" height="17.47" fill="#ca994d"/>
<rect x="955.42" y="801.02" width="6.47" height="5.42" fill="#8e5a36"/>
<rect x="964.40" y="1069.09" width="6.47" height="2.91" fill="#b8461c"/>
<rect x="964.40" y="1015.06" width="6.47" height="54.03" fill="#f4733b"/>
<rect x="964.40" y="877.55" width="6.47" height="137.52" fill="#f6ae4a"/>
<rect x="964.40" y="844.81" width="6.47" height="32.74" fill="#e4ca8c"/>
<rect x="964.40" y="825.33" width="6.47" height="19.48" fill="#ca994d"/>
<rect x="964.40" y="819.10" width="6.47" height="6.23" fill="#8e5a36"/>
<rect x="973.38" y="1069.69" width="6.47" height="2.31" fill="#b8461c"/>
<rect x="973.38" y="1017.87" width="6.47" height="51.82" fill="#f4733b"/>
<rect x="973.38" y="841.80" width="6.47" height="176.08" fill="#f6ae4a"/>
<rect x="973.38" y="791.99" width="6.47" height="49.81" fill="#e4ca8c"/>
<rect x="973.38" y="772.71" width="6.47" height="19.28" fill="#ca994d"/>
<rect x="973.38" y="766.88" width="6.47" height="5.82" fill="#8e5a36"/>
<rect x="982.36" y="1069.69" width="6.47" height="2.31" fill="#b8461c"/>
<rect x="982.36" y="1017.67" width="6.47" height="52.02" fill="#f4733b"/>
<rect x="982.36" y="955.81" width="6.47" height="61.86" fill="#f6ae4a"/>
<rect x="982.36" y="941.76" width="6.47" height="14.06" fill="#e4ca8c"/>
<rect x="982.36" y="921.07" width="6.47" height="20.69" fill="#ca994d"/>
<rect x="982.36" y="915.04" width="6.47" height="6.03" fill="#8e5a36"/>
<rect x="991.34" y="1069.29" width="6.47" height="2.71" fill="#b8461c"/>
<rect x="991.34" y="1020.69" width="6.47" height="48.60" fill="#f4733b"/>
<rect x="991.34" y="857.66" width="6.47" height="163.02" fill="#f6ae4a"/>
<rect x="991.34" y="817.90" width="6.47" height="39.77" fill="#e4ca8c"/>
<rect x="991.34" y="796.00" width="6.47" height="21.89" fill="#ca994d"/>
<rect x="991.34" y="790.18" width="6.47" height="5.82" fill="#8e5a36"/>
<rect x="1000.32" y="1069.49" width="6.47" height="2.51" fill="#b8461c"/>
<rect x="1000.32" y="1016.47" width="6.47" height="53.02" fill="#f4733b"/>
<rect x="1000.32" y="869.51" width="6.47" height="146.96" fill="#f6ae4a"/>
<rect x="1000.32" y="832.76" width="6.47" height="36.75" fill="#e4ca8c"/>
<rect x="1000.32" y="808.86" width="6.47" height="23.90" fill="#ca994d"/>
<rect x="1000.32" y="800.02" width="6.47" height="8.84" fill="#8e5a36"/>
<rect x="1009.30" y="1069.29" width="6.47" height="2.71" fill="#b8461c"/>
<rect x="1009.30" y="1011.05" width="6.47" height="58.24" fill="#f4733b"/>
<rect x="1009.30" y="842.80" width="6.47" height="168.25" fill="#f6ae4a"/>
<rect x="1009.30" y="805.84" width="6.47" height="36.96" fill="#e4ca8c"/>
<rect x="1009.30" y="781.54" width="6.47" height="24.30" fill="#ca994d"/>
<rect x="1009.30" y="775.12" width="6.47" height="6.43" fill="#8e5a36"/>
<rect x="1018.28" y="1069.49" width="6.47" height="2.51" fill="#b8461c"/>
<rect x="1018.28" y="1016.87" width="6.47" height="52.62" fill="#f4733b"/>
<rect x="1018.28" y="866.50" width="6.47" height="150.37" fill="#f6ae4a"/>
<rect x="1018.28" y="830.75" width="6.47" height="35.75" fill="#e4ca8c"/>
<rect x="1018.28" y="804.84" width="6.47" height="25.91" fill="#ca994d"/>
<rect x="1018.28" y="797.01" width="6.47" height="7.83" fill="#8e5a36"/>
<rect x="1027.26" y="1069.49" width="6.47" height="2.51" fill="#b8461c"/>
<rect x="1027.26" y="1019.68" width="6.47" height="49.81" fill="#f4733b"/>
<rect x="1027.26" y="865.29" width="6.47" height="154.39" fill="#f6ae4a"/>
<rect x="1027.26" y="831.75" width="6.47" height="33.54" fill="#e4ca8c"/>
<rect x="1027.26" y="806.85" width="6.47" height="24.90" fill="#ca994d"/>
<rect x="1027.26" y="800.02" width="6.47" height="6.83" fill="#8e5a36"/>
<rect x="1036.24" y="1069.69" width="6.47" height="2.31" fill="#b8461c"/>
<rect x="1036.24" y="1024.70" width="6.47" height="44.99" fill="#f4733b"/>
<rect x="1036.24" y="864.69" width="6.47" height="160.01" fill="#f6ae4a"/>
<rect x="1036.24" y="833.76" width="6.47" height="30.93" fill="#e4ca8c"/>
<rect x="1036.24" y="809.46" width="6.47" height="24.30" fill="#ca994d"/>
<rect x="1036.24" y="801.83" width="6.47" height="7.63" fill="#8e5a36"/>
<rect x="1045.22" y="1069.09" width="6.47" height="2.91" fill="#b8461c"/>
<rect x="1045.22" y="1014.66" width="6.47" height="54.43" fill="#f4733b"/>
<rect x="1045.22" y="902.45" width="6.47" height="112.21" fill="#f6ae4a"/>
<rect x="1045.22" y="872.73" width="6.47" height="29.72" fill="#e4ca8c"/>
<rect x="1045.22" y="850.83" width="6.47" height="21.89" fill="#ca994d"/>
<rect x="1045.22" y="843.40" width="6.47" height="7.43" fill="#8e5a36"/>
<rect x="1054.20" y="1069.09" width="6.47" height="2.91" fill="#b8461c"/>
<rect x="1054.20" y="1019.88" width="6.47" height="49.21" fill="#f4733b"/>
<rect x="1054.20" y="856.86" width="6.47" height="163.02" fill="#f6ae4a"/>
<rect x="1054.20" y="822.72" width="6.47" height="34.14" fill="#e4ca8c"/>
<rect x="1054.20" y="798.61" width="6.47" height="24.10" fill="#ca994d"/>
<rect x="1054.20" y="788.97" width="6.47" height="9.64" fill="#8e5a36"/>
<rect x="1063.18" y="1069.09" width="6.47" height="2.91" fill="#b8461c"/>
<rect x="1063.18" y="1007.83" width="6.47" height="61.26" fill="#f4733b"/>
<rect x="1063.18" y="854.65" width="6.47" height="153.18" fill="#f6ae4a"/>
<rect x="1063.18" y="816.89" width="6.47" height="37.76" fill="#e4ca8c"/>
<rect x="1063.18" y="788.97" width="6.47" height="27.92" fill="#ca994d"/>
<rect x="1063.18" y="780.14" width="6.47" height="8.84" fill="#8e5a36"/>
<rect x="1072.15" y="1066.68" width="6.47" height="5.32" fill="#b8461c"/>
<rect x="1072.15" y="1012.85" width="6.47" height="53.83" fill="#f4733b"/>
<rect x="1072.15" y="838.58" width="6.47" height="174.27" fill="#f6ae4a"/>
<rect x="1072.15" y="798.82" width="6.47" height="39.77" fill="#e4ca8c"/>
<rect x="1072.15" y="767.89" width="6.47" height="30.93" fill="#ca994d"/>
<rect x="1072.15" y="757.84" width="6.47" height="10.04" fill="#8e5a36"/>
<rect x="1081.13" y="1068.69" width="6.47" height="3.31" fill="#b8461c"/>
<rect x="1081.13" y="1013.86" width="6.47" height="54.83" fill="#f4733b"/>
<rect x="1081.13" y="834.57" width="6.47" height="179.29" fill="#f6ae4a"/>
<rect x="1081.13" y="792.79" width="6.47" height="41.78" fill="#e4ca8c"/>
<rect x="1081.13" y="763.06" width="6.47" height="29.72" fill="#ca994d"/>
<rect x="1081.13" y="753.63" width="6.47" height="9.44" fill="#8e5a36"/>
<rect x="1090.11" y="1067.88" width="6.47" height="4.12" fill="#b8461c"/>
<rect x="1090.11" y="1020.69" width="6.47" height="47.20" fill="#f4733b"/>
<rect x="1090.11" y="821.91" width="6.47" height="198.77" fill="#f6ae4a"/>
<rect x="1090.11" y="756.24" width="6.47" height="65.68" fill="#e4ca8c"/>
<rect x="1090.11" y="724.10" width="6.47" height="32.13" fill="#ca994d"/>
<rect x="1090.11" y="714.66" width="6.47" height="9.44" fill="#8e5a36"/>
<rect x="1099.09" y="1068.89" width="6.47" height="3.11" fill="#b8461c"/>
<rect x="1099.09" y="1024.70" width="6.47" height="44.19" fill="#f4733b"/>
<rect x="1099.09" y="849.63" width="6.47" height="175.08" fill="#f6ae4a"/>
<rect x="1099.09" y="805.84" width="6.47" height="43.78" fill="#e4ca8c"/>
<rect x="1099.09" y="775.32" width="6.47" height="30.53" fill="#ca994d"/>
<rect x="1099.09" y="765.27" width="6.47" height="10.04" fill="#8e5a36"/>
<rect x="1108.07" y="1068.89" width="6.47" height="3.11" fill="#b8461c"/>
<rect x="1108.07" y="1026.51" width="6.47" height="42.38" fill="#f4733b"/>
<rect x="1108.07" y="907.54" width="6.47" height="118.98" fill="#f6ae4a"/>
<rect x="1108.07" y="862.75" width="6.47" height="44.79" fill="#e4ca8c"/>
<rect x="1108.07" y="827.80" width="6.47" height="34.95" fill="#ca994d"/>
<rect x="1108.07" y="819.57" width="6.47" height="8.23" fill="#8e5a36"/>
<rect x="1117.05" y="1067.88" width="6.47" height="4.12" fill="#b8461c"/>
<rect x="1117.05" y="1014.06" width="6.47" height="53.83" fill="#f4733b"/>
<rect x="1117.05" y="815.89" width="6.47" height="198.17" fill="#f6ae4a"/>
<rect x="1117.05" y="767.89" width="6.47" height="48.00" fill="#e4ca8c"/>
<rect x="1117.05" y="732.94" width="6.47" height="34.95" fill="#ca994d"/>
<rect x="1117.05" y="722.09" width="6.47" height="10.85" fill="#8e5a36"/>
<rect x="1126.03" y="1067.68" width="6.47" height="4.32" fill="#b8461c"/>
<rect x="1126.03" y="1014.66" width="6.47" height="53.02" fill="#f4733b"/>
<rect x="1126.03" y="847.82" width="6.47" height="166.84" fill="#f6ae4a"/>
<rect x="1126.03" y="800.82" width="6.47" height="47.00" fill="#e4ca8c"/>
<rect x="1126.03" y="764.87" width="6.47" height="35.95" fill="#ca994d"/>
<rect x="1126.03" y="751.01" width="6.47" height="13.86" fill="#8e5a36"/>
<rect x="1135.01" y="1069.69" width="6.47" height="2.31" fill="#b8461c"/>
<rect x="1135.01" y="1017.67" width="6.47" height="52.02" fill="#f4733b"/>
<rect x="1135.01" y="825.93" width="6.47" height="191.75" fill="#f6ae4a"/>
<rect x="1135.01" y="776.92" width="6.47" height="49.01" fill="#e4ca8c"/>
<rect x="1135.01" y="739.77" width="6.47" height="37.16" fill="#ca994d"/>
<rect x="1135.01" y="725.51" width="6.47" height="14.26" fill="#8e5a36"/>
<rect x="1143.99" y="1068.69" width="6.47" height="3.31" fill="#b8461c"/>
<rect x="1143.99" y="1018.68" width="6.47" height="50.01" fill="#f4733b"/>
<rect x="1143.99" y="803.70" width="6.47" height="214.98" fill="#f6ae4a"/>
<rect x="1143.99" y="752.11" width="6.47" height="51.59" fill="#e4ca8c"/>
<rect x="1143.99" y="714.35" width="6.47" height="37.76" fill="#ca994d"/>
<rect x="1143.99" y="701.69" width="6.47" height="12.65" fill="#8e5a36"/>
<rect x="1152.97" y="1069.09" width="6.47" height="2.91" fill="#b8461c"/>
<rect x="1152.97" y="1019.48" width="6.47" height="49.61" fill="#f4733b"/>
<rect x="1152.97" y="812.74" width="6.47" height="206.74" fill="#f6ae4a"/>
<rect x="1152.97" y="763.35" width="6.47" height="49.38" fill="#e4ca8c"/>
<rect x="1152.97" y="726.40" width="6.47" height="36.96" fill="#ca994d"/>
<rect x="1152.97" y="715.55" width="6.47" height="10.85" fill="#8e5a36"/>
<rect x="1161.95" y="1069.09" width="6.47" height="2.91" fill="#b8461c"/>
<rect x="1161.95" y="1023.50" width="6.47" height="45.59" fill="#f4733b"/>
<rect x="1161.95" y="874.80" width="6.47" height="148.70" fill="#f6ae4a"/>
<rect x="1161.95" y="827.80" width="6.47" height="47.00" fill="#e4ca8c"/>
<rect x="1161.95" y="790.04" width="6.47" height="37.76" fill="#ca994d"/>
<rect x="1161.95" y="776.21" width="6.47" height="13.83" fill="#8e5a36"/>
<rect x="1170.93" y="1069.69" width="6.47" height="2.31" fill="#b8461c"/>
<rect x="1170.93" y="1021.49" width="6.47" height="48.20" fill="#f4733b"/>
<rect x="1170.93" y="888.86" width="6.47" height="132.63" fill="#f6ae4a"/>
<rect x="1170.93" y="837.84" width="6.47" height="51.01" fill="#e4ca8c"/>
<rect x="1170.93" y="798.08" width="6.47" height="39.77" fill="#ca994d"/>
<rect x="1170.93" y="785.25" width="6.47" height="12.83" fill="#8e5a36"/>
<rect x="1179.91" y="1068.29" width="6.47" height="3.71" fill="#b8461c"/>
<rect x="1179.91" y="1019.68" width="6.47" height="48.60" fill="#f4733b"/>
<rect x="1179.91" y="829.81" width="6.47" height="189.87" fill="#f6ae4a"/>
<rect x="1179.91" y="776.21" width="6.47" height="53.60" fill="#e4ca8c"/>
<rect x="1179.91" y="736.24" width="6.47" height="39.97" fill="#ca994d"/>
<rect x="1179.91" y="723.39" width="6.47" height="12.85" fill="#8e5a36"/>
<rect x="1188.89" y="1069.09" width="6.47" height="2.91" fill="#b8461c"/>
<rect x="1188.89" y="1015.67" width="6.47" height="53.42" fill="#f4733b"/>
<rect x="1188.89" y="811.73" width="6.47" height="203.93" fill="#f6ae4a"/>
<rect x="1188.89" y="758.13" width="6.47" height="53.60" fill="#e4ca8c"/>
<rect x="1188.89" y="716.16" width="6.47" height="41.98" fill="#ca994d"/>
<rect x="1188.89" y="701.29" width="6.47" height="14.86" fill="#8e5a36"/>
<rect x="1197.87" y="1068.30" width="6.47" height="3.70" fill="#b8461c"/>
<rect x="1197.87" y="1014.06" width="6.47" height="54.24" fill="#f4733b"/>
<rect x="1197.87" y="803.70" width="6.47" height="210.36" fill="#f6ae4a"/>
<rect x="1197.87" y="744.07" width="6.47" height="59.63" fill="#e4ca8c"/>
<rect x="1197.87" y="699.28" width="6.47" height="44.79" fill="#ca994d"/>
<rect x="1197.87" y="684.82" width="6.47" height="14.46" fill="#8e5a36"/>
<rect x="1206.85" y="1068.50" width="6.47" height="3.50" fill="#b8461c"/>
<rect x="1206.85" y="1014.86" width="6.47" height="53.64" fill="#f4733b"/>
<rect x="1206.85" y="816.75" width="6.47" height="198.11" fill="#f6ae4a"/>
<rect x="1206.85" y="759.14" width="6.47" height="57.62" fill="#e4ca8c"/>
<rect x="1206.85" y="715.35" width="6.47" height="43.78" fill="#ca994d"/>
<rect x="1206.85" y="698.48" width="6.47" height="16.87" fill="#8e5a36"/>
<rect x="1215.83" y="1068.50" width="6.47" height="3.50" fill="#b8461c"/>
<rect x="1215.83" y="1019.68" width="6.47" height="48.82" fill="#f4733b"/>
<rect x="1215.83" y="830.61" width="6.47" height="189.07" fill="#f6ae4a"/>
<rect x="1215.83" y="776.21" width="6.47" height="54.41" fill="#e4ca8c"/>
<rect x="1215.83" y="733.23" width="6.47" height="42.98" fill="#ca994d"/>
<rect x="1215.83" y="712.34" width="6.47" height="20.89" fill="#8e5a36"/>
<rect x="1224.80" y="1068.90" width="6.47" height="3.10" fill="#b8461c"/>
<rect x="1224.80" y="1022.70" width="6.47" height="46.20" fill="#f4733b"/>
<rect x="1224.80" y="859.73" width="6.47" height="162.96" fill="#f6ae4a"/>
<rect x="1224.80" y="808.72" width="6.47" height="51.01" fill="#e4ca8c"/>
<rect x="1224.80" y="767.37" width="6.47" height="41.35" fill="#ca994d"/>
<rect x="1224.80" y="750.30" width="6.47" height="17.07" fill="#8e5a36"/>
<rect x="1233.78" y="1069.10" width="6.47" height="2.90" fill="#b8461c"/>
<rect x="1233.78" y="1020.69" width="6.47" height="48.41" fill="#f4733b"/>
<rect x="1233.78" y="863.75" width="6.47" height="156.93" fill="#f6ae4a"/>
<rect x="1233.78" y="806.71" width="6.47" height="57.04" fill="#e4ca8c"/>
<rect x="1233.78" y="762.15" width="6.47" height="44.56" fill="#ca994d"/>
<rect x="1233.78" y="746.88" width="6.47" height="15.26" fill="#8e5a36"/>
<rect x="1242.76" y="1068.70" width="6.47" height="3.30" fill="#b8461c"/>
<rect x="1242.76" y="1016.87" width="6.47" height="51.83" fill="#f4733b"/>
<rect x="1242.76" y="703.70" width="6.47" height="313.17" fill="#f6ae4a"/>
<rect x="1242.76" y="649.27" width="6.47" height="54.43" fill="#e4ca8c"/>
<rect x="1242.76" y="599.06" width="6.47" height="50.21" fill="#ca994d"/>
<rect x="1242.76" y="580.38" width="6.47" height="18.68" fill="#8e5a36"/>
<rect x="1251.74" y="1068.50" width="6.47" height="3.50" fill="#b8461c"/>
<rect x="1251.74" y="1017.47" width="6.47" height="51.03" fill="#f4733b"/>
<rect x="1251.74" y="808.72" width="6.47" height="208.75" fill="#f6ae4a"/>
<rect x="1251.74" y="755.52" width="6.47" height="53.20" fill="#e4ca8c"/>
<rect x="1251.74" y="703.10" width="6.47" height="52.42" fill="#ca994d"/>
<rect x="1251.74" y="685.43" width="6.47" height="17.67" fill="#8e5a36"/>
<rect x="1260.72" y="1068.50" width="6.47" height="3.50" fill="#b8461c"/>
<rect x="1260.72" y="1019.68" width="6.47" height="48.82" fill="#f4733b"/>
<rect x="1260.72" y="826.60" width="6.47" height="193.09" fill="#f6ae4a"/>
<rect x="1260.72" y="766.17" width="6.47" height="60.43" fill="#e4ca8c"/>
<rect x="1260.72" y="714.15" width="6.47" height="52.02" fill="#ca994d"/>
<rect x="1260.72" y="694.87" width="6.47" height="19.28" fill="#8e5a36"/>
<rect x="1269.70" y="1067.90" width="6.47" height="4.10" fill="#b8461c"/>
<rect x="1269.70" y="1019.48" width="6.47" height="48.42" fill="#f4733b"/>
<rect x="1269.70" y="704.91" width="6.47" height="314.57" fill="#f6ae4a"/>
<rect x="1269.70" y="653.09" width="6.47" height="51.82" fill="#e4ca8c"/>
<rect x="1269.70" y="598.26" width="6.47" height="54.83" fill="#ca994d"/>
<rect x="1269.70" y="575.56" width="6.47" height="22.70" fill="#8e5a36"/>
<rect x="1278.68" y="1068.50" width="6.47" height="3.50" fill="#b8461c"/>
<rect x="1278.68" y="1025.11" width="6.47" height="43.39" fill="#f4733b"/>
<rect x="1278.68" y="779.02" width="6.47" height="246.09" fill="#f6ae4a"/>
<rect x="1278.68" y="732.02" width="6.47" height="47.00" fill="#e4ca8c"/>
<rect x="1278.68" y="679.20" width="6.47" height="52.82" fill="#ca994d"/>
<rect x="1278.68" y="658.51" width="6.47" height="20.69" fill="#8e5a36"/>
<rect x="1287.66" y="1068.50" width="6.47" height="3.50" fill="#b8461c"/>
<rect x="1287.66" y="1017.87" width="6.47" height="50.63" fill="#f4733b"/>
<rect x="1287.66" y="835.63" width="6.47" height="182.24" fill="#f6ae4a"/>
<rect x="1287.66" y="784.24" width="6.47" height="51.39" fill="#e4ca8c"/>
<rect x="1287.66" y="730.21" width="6.47" height="54.03" fill="#ca994d"/>
<rect x="1287.66" y="710.13" width="6.47" height="20.08" fill="#8e5a36"/>
<rect x="1296.64" y="1067.70" width="6.47" height="4.30" fill="#b8461c"/>
<rect x="1296.64" y="1016.67" width="6.47" height="51.03" fill="#f4733b"/>
<rect x="1296.64" y="830.61" width="6.47" height="186.06" fill="#f6ae4a"/>
<rect x="1296.64" y="781.23" width="6.47" height="49.38" fill="#e4ca8c"/>
<rect x="1296.64" y="724.39" width="6.47" height="56.84" fill="#ca994d"/>
<rect x="1296.64" y="705.11" width="6.47" height="19.28" fill="#8e5a36"/>
<rect x="1305.62" y="1068.90" width="6.47" height="3.10" fill="#b8461c"/>
<rect x="1305.62" y="1017.67" width="6.47" height="51.23" fill="#f4733b"/>
<rect x="1305.62" y="754.32" width="6.47" height="263.36" fill="#f6ae4a"/>
<rect x="1305.62" y="703.10" width="6.47" height="51.22" fill="#e4ca8c"/>
<rect x="1305.62" y="643.05" width="6.47" height="60.05" fill="#ca994d"/>
<rect x="1305.62" y="618.95" width="6.47" height="24.10" fill="#8e5a36"/>
<rect x="1314.60" y="1068.50" width="6.47" height="3.50" fill="#b8461c"/>
<rect x="1314.60" y="1016.67" width="6.47" height="51.83" fill="#f4733b"/>
<rect x="1314.60" y="730.21" width="6.47" height="286.46" fill="#f6ae4a"/>
<rect x="1314.60" y="681.21" width="6.47" height="49.01" fill="#e4ca8c"/>
<rect x="1314.60" y="619.15" width="6.47" height="62.06" fill="#ca994d"/>
<rect x="1314.60" y="591.83" width="6.47" height="27.31" fill="#8e5a36"/>
<rect x="1323.58" y="1067.50" width="6.47" height="4.50" fill="#b8461c"/>
<rect x="1323.58" y="1015.67" width="6.47" height="51.83" fill="#f4733b"/>
<rect x="1323.58" y="726.20" width="6.47" height="289.47" fill="#f6ae4a"/>
<rect x="1323.58" y="675.18" width="6.47" height="51.01" fill="#e4ca8c"/>
<rect x="1323.58" y="609.31" width="6.47" height="65.88" fill="#ca994d"/>
<rect x="1323.58" y="585.00" width="6.47" height="24.30" fill="#8e5a36"/>
</svg>
<div class="yl" style="top:1058.0px">0</div><div class="yl" style="top:1003.9px">20,000</div><div class="yl" style="top:949.7px">40,000</div><div class="yl" style="top:895.5px">60,000</div><div class="yl" style="top:841.3px">80,000</div><div class="yl" style="top:787.2px">100,000</div><div class="yl" style="top:733.0px">120,000</div><div class="yl" style="top:678.8px">140,000</div><div class="yl" style="top:624.7px">160,000</div><div class="yl" style="top:570.5px">180,000</div><div class="yl" style="top:516.3px">200,000</div>
<div class="xl" style="left:155.4px">2/22</div><div class="xl" style="left:218.3px">2/29</div><div class="xl" style="left:281.1px">3/7</div><div class="xl" style="left:344.0px">3/14</div><div class="xl" style="left:406.8px">3/21</div><div class="xl" style="left:469.7px">3/28</div><div class="xl" style="left:532.5px">4/4</div><div class="xl" style="left:595.4px">4/11</div><div class="xl" style="left:658.3px">4/18</div><div class="xl" style="left:721.1px">4/25</div><div class="xl" style="left:784.0px">5/2</div><div class="xl" style="left:846.8px">5/9</div><div class="xl" style="left:909.7px">5/16</div><div class="xl" style="left:972.5px">5/23</div><div class="xl" style="left:1035.4px">5/30</div><div class="xl" style="left:1098.2px">6/6</div><div class="xl" style="left:1161.1px">6/13</div><div class="xl" style="left:1224.0px">6/20</div><div class="xl" style="left:1286.8px">6/27</div>
<div class="legend"><span class="lb" style="left:0px;background:#82270b"></span><span class="lt" style="left:36px">世界</span><span class="lb" style="left:94px;background:#b8461c"></span><span class="lt" style="left:130px">西太平洋（日本、中国を含む）</span><span class="lb" style="left:475.5px;background:#f4733b"></span><span class="lt" style="left:511.5px">欧州</span><span class="lb" style="left:569.6px;background:#f6ae4a"></span><span class="lt" style="left:605.6px">米州</span><span class="lb" style="left:664px;background:#e4ca8c"></span><span class="lt" style="left:700px">東地中海</span><span class="lb" style="left:806px;background:#ca994d"></span><span class="lt" style="left:842px">南東アジア</span><span class="lb" style="left:973px;background:#8e5a36"></span><span class="lt" style="left:1009px">アフリカ</span></div>
</body></html>
